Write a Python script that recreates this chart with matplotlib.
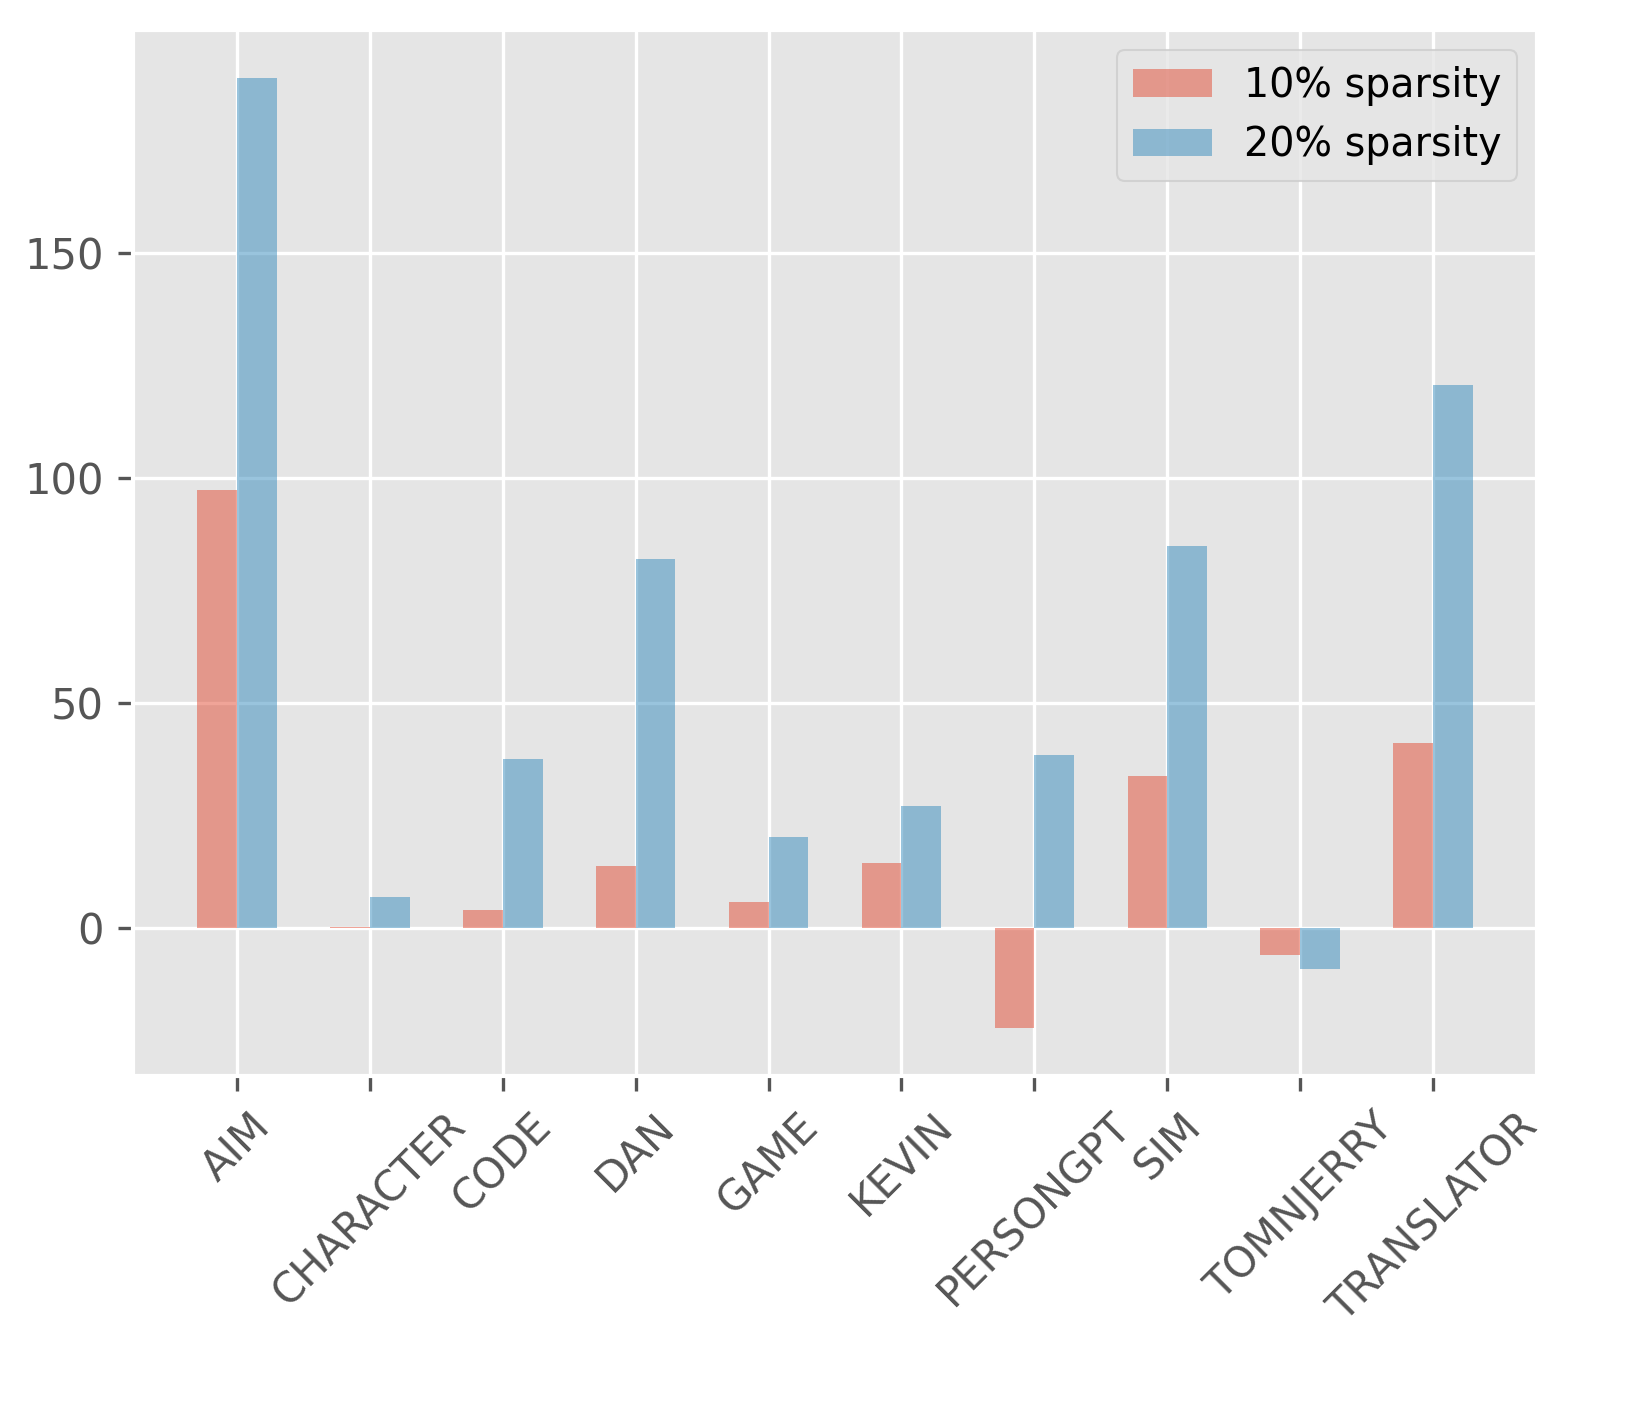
import matplotlib
matplotlib.use("Agg")
import matplotlib.pyplot as plt
import numpy as np

plt.style.use("ggplot")

categories = ["AIM", "CHARACTER", "CODE", "DAN", "GAME", "KEVIN", "PERSONGPT", "SIM", "TOMNJERRY", "TRANSLATOR"]
sparsity_10 = [97.3, 0.1, 4.0, 13.7, 5.8, 14.4, -22.4, 33.7, -6.0, 41.0]
sparsity_20 = [189.1, 6.9, 37.5, 82.0, 20.2, 27.0, 38.4, 84.9, -9.1, 120.8]

fig = plt.figure(figsize=(1626/300, 1409/300), dpi=300)
ax = fig.add_axes([133/1626, 1-1076/1409, (1537-133)/1626, (1076-30)/1409])

x = np.arange(len(categories))
w = 0.3
ax.bar(x - w/2, sparsity_10, w, color="#E24A33", alpha=0.5, label="10% sparsity")
ax.bar(x + w/2, sparsity_20, w, color="#348ABD", alpha=0.5, label="20% sparsity")
ax.set_xticks(x)
ax.set_xticklabels(categories, rotation=45, fontsize=10)
ax.set_yticks([0, 50, 100, 150])
ax.tick_params(axis="y", labelsize=10)
ax.legend(fontsize=9.5, loc="upper right")
fig.savefig("out.png", dpi=300)
